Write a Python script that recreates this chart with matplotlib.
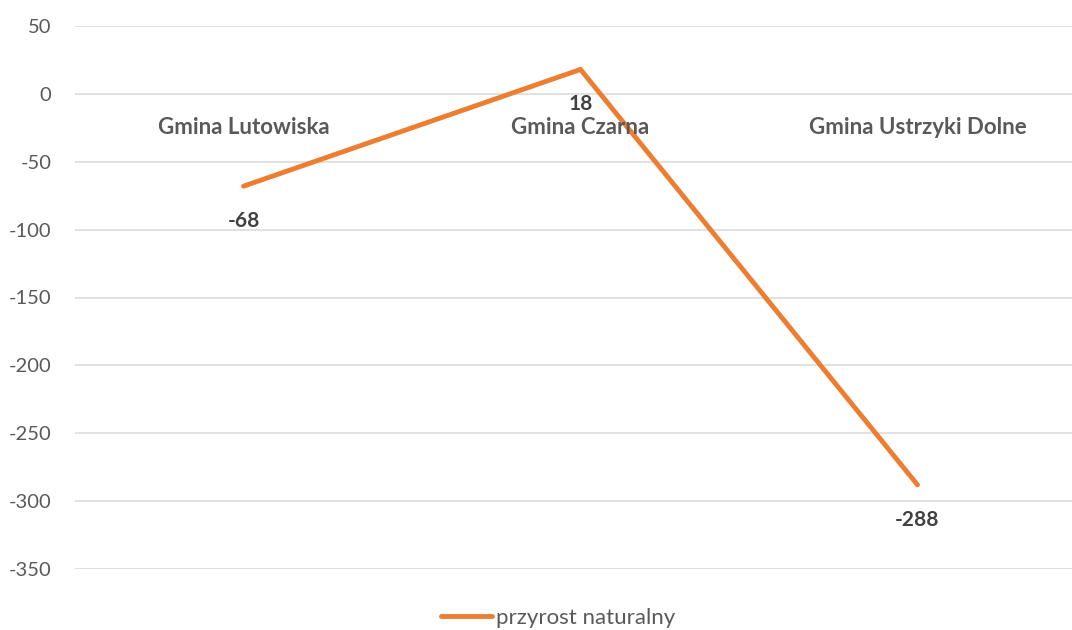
import matplotlib.pyplot as plt
from matplotlib.lines import Line2D

# dane
gminy = ["Gmina Lutowiska", "Gmina Czarna", "Gmina Ustrzyki Dolne"]
przyrost = [-68, 18, -288]
y_ticks = [50, 0, -50, -100, -150, -200, -250, -300, -350]

plt.rcParams["font.family"] = ["Lato", "DejaVu Sans"]
plt.rcParams["axes.unicode_minus"] = False

fig = plt.figure(figsize=(10.72, 6.30), dpi=100)
ax = fig.add_axes([75 / 1072, 1 - 569 / 630, 1011 / 1072, 543 / 630])

x = list(range(len(gminy)))
ax.plot(x, przyrost, color="#ED7D31", linewidth=3.5, solid_capstyle="round",
        solid_joinstyle="miter", zorder=3)

# etykiety danych pod punktami
for xi, v in zip(x, przyrost):
    ax.annotate(str(v), (xi, v), xytext=(0, -25), textcoords="offset points",
                ha="center", va="center", fontsize=15, fontweight="bold",
                color="#404040", zorder=4)

# etykiety kategorii przy linii zera
for xi, g in zip(x, gminy):
    ax.annotate(g, (xi, 0), xytext=(0, -24), textcoords="offset points",
                ha="center", va="center", fontsize=16, fontweight="bold",
                color="#595959", zorder=4)

ax.set_xlim(-0.5, 2.5)
ax.set_ylim(-350, 50)
ax.set_yticks(y_ticks)
ax.set_xticks([])
ax.tick_params(axis="y", length=0, labelsize=14.5, labelcolor="#595959", pad=17)
ax.grid(axis="y", color="#D9D9D9", linewidth=1.1)
ax.set_axisbelow(True)
for s in ax.spines.values():
    s.set_visible(False)

handle = Line2D([0], [0], color="#ED7D31", linewidth=3.5, solid_capstyle="round")
fig.legend([handle], ["przyrost naturalny"], loc="center", bbox_to_anchor=(558 / 1072, 1 - 618 / 630),
           frameon=False, fontsize=16, labelcolor="#595959", handlelength=2.3,
           handletextpad=0.2)

fig.savefig("out.png", dpi=100)
